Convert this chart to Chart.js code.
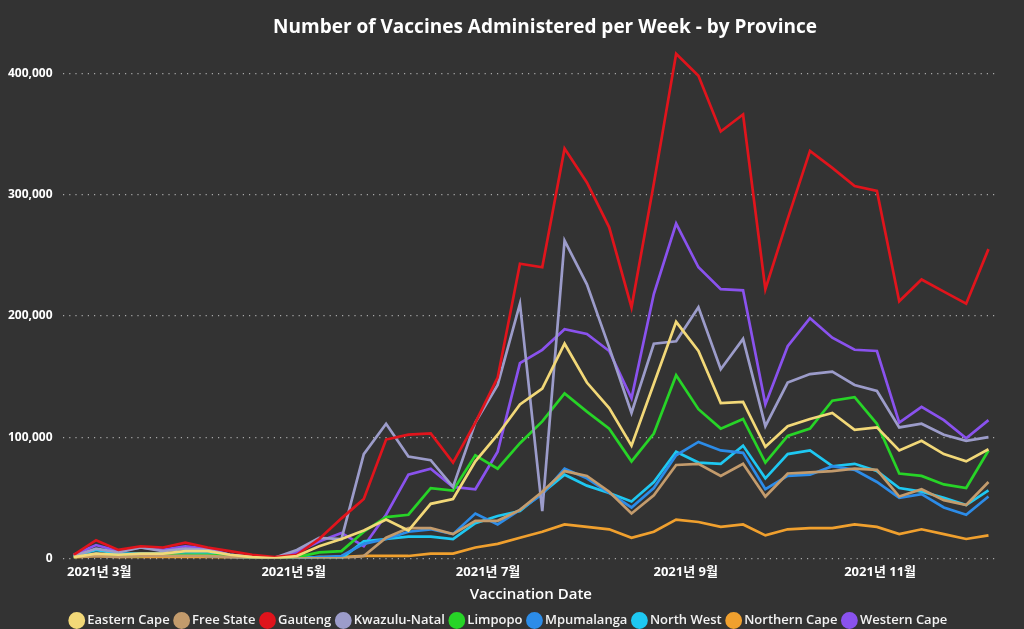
<!DOCTYPE html>
<html>
<head>
<meta charset="utf-8">
<script src="https://cdn.jsdelivr.net/npm/chart.js@4.4.0/dist/chart.umd.min.js"></script>
<style>
  html, body { margin: 0; padding: 0; background: #333333; }
  #wrap { width: 1024px; height: 629px; }
</style>
</head>
<body>
<div id="wrap"><canvas id="vaxChart" width="1024" height="629"></canvas></div>
<script>
// weekly buckets (week starting Sunday)
const weekDates = [
  '2021-02-21', '2021-02-28', '2021-03-07', '2021-03-14', '2021-03-21', '2021-03-28',
  '2021-04-04', '2021-04-11', '2021-04-18', '2021-04-25', '2021-05-02', '2021-05-09',
  '2021-05-16', '2021-05-23', '2021-05-30', '2021-06-06', '2021-06-13', '2021-06-20',
  '2021-06-27', '2021-07-04', '2021-07-11', '2021-07-18', '2021-07-25', '2021-08-01',
  '2021-08-08', '2021-08-15', '2021-08-22', '2021-08-29', '2021-09-05', '2021-09-12',
  '2021-09-19', '2021-09-26', '2021-10-03', '2021-10-10', '2021-10-17', '2021-10-24',
  '2021-10-31', '2021-11-07', '2021-11-14', '2021-11-21', '2021-11-28', '2021-12-05'
];

const monthTickDates = ['2021-03-01', '2021-05-01', '2021-07-01', '2021-09-01', '2021-11-01'];
const monthTickLabels = ['2021년 3월', '2021년 5월', '2021년 7월', '2021년 9월', '2021년 11월'];
const yTickValues = [0, 100000, 200000, 300000, 400000];

const provinces = ['Eastern Cape', 'Free State', 'Gauteng', 'Kwazulu-Natal', 'Limpopo',
  'Mpumalanga', 'North West', 'Northern Cape', 'Western Cape'];

const easternCape = [1000, 4000, 3000, 4000, 4000, 6000, 6000, 3000, 1000, 0, 2000, 10000,
  16000, 23000, 32000, 23000, 45000, 49000, 80000, 102000, 127000, 140000, 177000, 145000,
  124000, 93000, 144000, 195000, 171000, 128000, 129000, 92000, 109000, 115000, 120000, 106000,
  108000, 89000, 97000, 86000, 80000, 90000];
const freeState = [1000, 2000, 1000, 2000, 2000, 2000, 2000, 1000, 0, 0, 0, 0,
  0, 2000, 17000, 25000, 25000, 20000, 31000, 31000, 40000, 55000, 72000, 68000,
  55000, 37000, 52000, 77000, 78000, 68000, 78000, 51000, 70000, 71000, 72000, 74000,
  73000, 51000, 57000, 48000, 44000, 63000];
const gauteng = [3000, 15000, 7000, 10000, 9000, 13000, 9000, 6000, 3000, 1000, 3000, 16000,
  33000, 49000, 98000, 102000, 103000, 79000, 112000, 149000, 243000, 240000, 338000, 310000,
  273000, 207000, 309000, 416000, 398000, 352000, 366000, 222000, 280000, 336000, 322000, 307000,
  303000, 212000, 230000, 220000, 210000, 255000];
const kwazuluNatal = [2000, 8000, 5000, 9000, 6000, 8000, 7000, 3000, 1000, 500, 7000, 17000,
  16000, 86000, 111000, 84000, 81000, 59000, 112000, 143000, 210000, 39000, 262000, 226000,
  174000, 120000, 177000, 179000, 207000, 156000, 181000, 109000, 145000, 152000, 154000, 143000,
  138000, 108000, 111000, 102000, 97000, 100000];
const limpopo = [1000, 3000, 2000, 2000, 3000, 3000, 3000, 2000, 500, 0, 1000, 5000,
  6000, 22000, 34000, 36000, 58000, 56000, 85000, 74000, 95000, 113000, 136000, 121000,
  107000, 80000, 103000, 151000, 123000, 107000, 115000, 79000, 101000, 107000, 130000, 133000,
  111000, 70000, 68000, 61000, 58000, 89000];
const mpumalanga = [1000, 4000, 2000, 3000, 3000, 3000, 2000, 1000, 0, 0, 0, 1000,
  2000, 12000, 16000, 22000, 24000, 20000, 37000, 28000, 40000, 53000, 74000, 66000,
  54000, 42000, 58000, 85000, 96000, 89000, 87000, 57000, 68000, 69000, 76000, 73000,
  63000, 50000, 53000, 42000, 36000, 51000];
const northWest = [2000, 7000, 4000, 4000, 4000, 4000, 4000, 2000, 500, 0, 0, 1000,
  0, 14000, 16000, 18000, 18000, 16000, 29000, 35000, 39000, 54000, 69000, 60000,
  54000, 47000, 63000, 88000, 79000, 78000, 93000, 66000, 86000, 89000, 76000, 78000,
  72000, 58000, 55000, 50000, 44000, 56000];
const northernCape = [500, 2000, 1000, 1000, 1000, 1000, 1000, 500, 0, 0, 0, 1000,
  1000, 2000, 2000, 2000, 4000, 4000, 9000, 12000, 17000, 22000, 28000, 26000,
  24000, 17000, 22000, 32000, 30000, 26000, 28000, 19000, 24000, 25000, 25000, 28000,
  26000, 20000, 24000, 20000, 16000, 19000];
const westernCape = [3000, 11000, 6000, 9000, 7000, 10000, 8000, 3000, 1000, 500, 5000, 14000,
  21000, 10000, 36000, 69000, 74000, 59000, 57000, 88000, 161000, 172000, 189000, 185000,
  171000, 132000, 218000, 276000, 240000, 222000, 221000, 127000, 175000, 198000, 182000, 172000,
  171000, 112000, 125000, 114000, 99000, 114000];

const seriesValues = [easternCape, freeState, gauteng, kwazuluNatal, limpopo,
  mpumalanga, northWest, northernCape, westernCape];

function getColor(name) {
  const colors = {
    'Eastern Cape': '#f2d878',
    'Free State': '#c39b6c',
    'Gauteng': '#e0141c',
    'Kwazulu-Natal': '#9c9cca',
    'Limpopo': '#27d427',
    'Mpumalanga': '#2c8ce8',
    'North West': '#1ec8f2',
    'Northern Cape': '#f0a02e',
    'Western Cape': '#8a52ee'
  };
  return colors[name] || '#ffffff';
}

// day number since 1 Jan 2021, used as x value
function dayOf(str) {
  const p = str.split('-').map(Number);
  return (Date.UTC(p[0], p[1] - 1, p[2]) - Date.UTC(2021, 0, 1)) / 86400000;
}

const weekDays = weekDates.map(dayOf);
const monthTickDays = monthTickDates.map(dayOf);

const datasets = provinces.map((name, i) => ({
  label: name,
  data: weekDays.map((d, j) => ({ x: d, y: seriesValues[i][j] })),
  borderColor: getColor(name),
  backgroundColor: getColor(name),
  borderWidth: 2.7,
  pointRadius: 0,
  tension: 0
}));

const fontFamily = "'Segoe UI', 'Open Sans', 'Noto Sans CJK KR', sans-serif";
const titleText = 'Number of Vaccines Administered per Week - by Province';

// background + title (title sits a bit right of centre, as in the original visual)
const framePlugin = {
  id: 'frame',
  beforeDraw(c) {
    const ctx = c.ctx;
    ctx.save();
    ctx.fillStyle = '#333333';
    ctx.fillRect(0, 0, c.width, c.height);
    ctx.restore();
  },
  afterDraw(c) {
    const ctx = c.ctx;
    ctx.save();
    ctx.fillStyle = '#ffffff';
    ctx.font = 'bold 19px ' + fontFamily;
    ctx.textAlign = 'center';
    ctx.textBaseline = 'middle';
    ctx.fillText(titleText, 545, 28);
    ctx.restore();
  }
};

Chart.defaults.font.family = fontFamily;
Chart.defaults.color = '#f2f2f2';

new Chart(document.getElementById('vaxChart'), {
  type: 'line',
  data: { datasets: datasets },
  plugins: [framePlugin],
  options: {
    responsive: false,
    animation: false,
    layout: { padding: { left: -2, right: 2, top: 49, bottom: -8 } },
    plugins: {
      title: { display: false },
      legend: {
        position: 'bottom',
        labels: {
          usePointStyle: true,
          pointStyle: 'circle',
          boxWidth: 8,
          boxHeight: 10,
          padding: 8,
          color: '#f2f2f2',
          font: { size: 13, weight: '600' }
        }
      },
      tooltip: { enabled: false }
    },
    scales: {
      x: {
        type: 'linear',
        min: 47.5,
        max: 341.3,
        afterBuildTicks: axis => {
          axis.ticks = monthTickDays.map(v => ({ value: v }));
        },
        ticks: {
          autoSkip: false,
          maxRotation: 0,
          padding: -2,
          font: { size: 13, weight: 'bold' },
          color: '#ffffff',
          callback: (value) => {
            const k = monthTickDays.indexOf(value);
            return k >= 0 ? monthTickLabels[k] : '';
          }
        },
        grid: { display: false },
        border: { display: false },
        title: {
          display: true,
          text: 'Vaccination Date',
          color: '#ffffff',
          font: { size: 15, weight: '600' },
          padding: { top: 8, bottom: 2 }
        }
      },
      y: {
        min: 0,
        max: 420000,
        afterBuildTicks: axis => {
          axis.ticks = yTickValues.map(v => ({ value: v }));
        },
        ticks: {
          autoSkip: false,
          padding: 10,
          font: { size: 12, weight: 'bold' },
          color: '#ffffff',
          callback: v => v.toLocaleString('en-US')
        },
        grid: {
          color: '#a8a8a8',
          lineWidth: 1.2,
          drawTicks: false
        },
        border: { display: false, dash: [1.2, 5] }
      },
      // empty spacer on the right, keeps the plot edge at x=999 while the legend spans the full width
      spacer: {
        position: 'right',
        grid: { display: false },
        border: { display: false },
        ticks: { display: false },
        afterFit: axis => {
          axis.width = 23;
        }
      }
    }
  }
});
</script>
</body>
</html>
